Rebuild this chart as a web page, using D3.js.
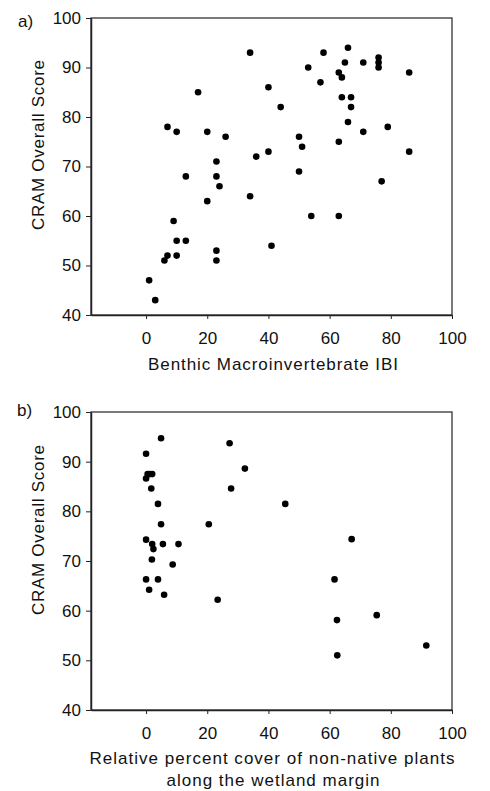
<!DOCTYPE html>
<html>
<head>
<meta charset="utf-8">
<script src="https://cdn.jsdelivr.net/npm/d3@7"></script>
<style>
  body { margin: 0; background: #fff; }
  svg { display: block; font-family: "Liberation Sans", Arial, sans-serif; }
  .tick text { font-size: 17px; fill: #111; }
  .tick line, .domain { stroke: #222; }
</style>
</head>
<body>
<div id="chart"></div>
<script>
// panel a: benthic IBI vs CRAM score
const ibiX = [34, 58, 66, 65, 71, 76, 76, 76, 86, 53, 63, 64, 57, 17, 40, 64, 67, 67, 44, 66,
              7, 10, 20, 26, 50, 51, 71, 79, 63, 86, 40, 36, 23, 13, 23, 24, 50, 77, 20, 34,
              54, 63, 9, 10, 13, 41, 7, 6, 10, 23, 23, 1, 3];
const ibiY = [93, 93, 94, 91, 91, 92, 91, 90, 89, 90, 89, 88, 87, 85, 86, 84, 84, 82, 82, 79,
              78, 77, 77, 76, 76, 74, 77, 78, 75, 73, 73, 72, 71, 68, 68, 66, 69, 67, 63, 64,
              60, 60, 59, 55, 55, 54, 52, 51, 52, 53, 51, 47, 43];

// panel b: non-native cover vs CRAM score
const coverX = [4.9, 0, 27.3, 32.3, 0, 0.5, 1.2, 2, 1.7, 27.8, 3.9, 45.5, 4.9, 20.5, 0, 67.2,
                2.0, 2.4, 5.5, 10.6, 1.9, 8.7, 0, 3.9, 61.6, 1.0, 5.9, 23.4, 62.4, 75.4, 62.5, 91.6];
const coverY = [94.7, 91.6, 93.7, 88.6, 86.6, 87.5, 87.5, 87.5, 84.6, 84.6, 81.5, 81.5, 77.4, 77.4, 74.3, 74.4,
                73.4, 72.4, 73.4, 73.4, 70.3, 69.3, 66.3, 66.3, 66.3, 64.2, 63.2, 62.2, 58.1, 59.1, 51.0, 53.0];

const xTicks = [0, 20, 40, 60, 80, 100];
const yTicks = [40, 50, 60, 70, 80, 90, 100];
const yTitle = "CRAM Overall Score";

const W = 490, H = 791;
const svg = d3.select('#chart').append('svg')
  .attr('width', W).attr('height', H);

// x scale is the same for both panels
const xScale = d3.scaleLinear().domain([-18, 100]).range([91, 452]);

function drawPanel(cfg) {
  const yScale = d3.scaleLinear().domain([40, 100]).range([cfg.bottom, cfg.top]);
  const g = svg.append('g');

  // box round the plot
  g.append('rect')
    .attr('x', xScale.range()[0]).attr('y', cfg.top)
    .attr('width', xScale.range()[1] - xScale.range()[0])
    .attr('height', cfg.bottom - cfg.top)
    .attr('fill', 'none').attr('stroke', '#333').attr('stroke-width', 1.3);

  g.append('g')
    .attr('transform', 'translate(' + xScale.range()[0] + ',0)')
    .call(d3.axisLeft(yScale).tickValues(yTicks).tickSize(5).tickSizeOuter(0).tickPadding(5))
    .call(s => s.select('.domain').attr('stroke-width', 1.5));

  g.append('g')
    .attr('transform', 'translate(0,' + cfg.bottom + ')')
    .call(d3.axisBottom(xScale).tickValues(xTicks).tickSize(4).tickSizeOuter(0).tickPadding(13))
    .call(s => s.select('.domain').attr('stroke-width', 1.5));

  g.selectAll('.tick text').attr('font-family', null).attr('font-size', null);

  g.append('g').selectAll('circle')
    .data(d3.zip(cfg.xs, cfg.ys))
    .join('circle')
    .attr('cx', d => xScale(d[0]))
    .attr('cy', d => yScale(d[1]))
    .attr('r', 3.3)
    .attr('fill', '#000');

  // panel letter
  g.append('text')
    .attr('x', cfg.letterX).attr('y', cfg.letterY)
    .attr('font-size', 17).attr('fill', '#111')
    .text(cfg.letter);

  // y title
  g.append('text')
    .attr('transform', 'translate(44,' + cfg.yTitleMid + ') rotate(-90)')
    .attr('text-anchor', 'middle')
    .attr('font-size', 17).attr('fill', '#111')
    .attr('textLength', 170).attr('lengthAdjust', 'spacing')
    .text(yTitle);

  // x title, one or two lines
  cfg.xTitle.forEach((line, i) => {
    g.append('text')
      .attr('x', cfg.xTitleMid[i]).attr('y', cfg.xTitleY[i])
      .attr('text-anchor', 'middle')
      .attr('font-size', 17).attr('fill', '#111')
      .attr('textLength', cfg.xTitleLen[i]).attr('lengthAdjust', 'spacing')
      .text(line);
  });
}

drawPanel({
  top: 18, bottom: 315, xs: ibiX, ys: ibiY,
  letter: 'a)', letterX: 18, letterY: 27,
  yTitleMid: 145,
  xTitle: ['Benthic Macroinvertebrate IBI'],
  xTitleMid: [273], xTitleY: [370], xTitleLen: [250]
});

drawPanel({
  top: 412, bottom: 710, xs: coverX, ys: coverY,
  letter: 'b)', letterX: 17, letterY: 416,
  yTitleMid: 530,
  xTitle: ['Relative percent cover of non-native plants', 'along the wetland margin'],
  xTitleMid: [272, 273], xTitleY: [764, 786], xTitleLen: [365, 213]
});
</script>
</body>
</html>
